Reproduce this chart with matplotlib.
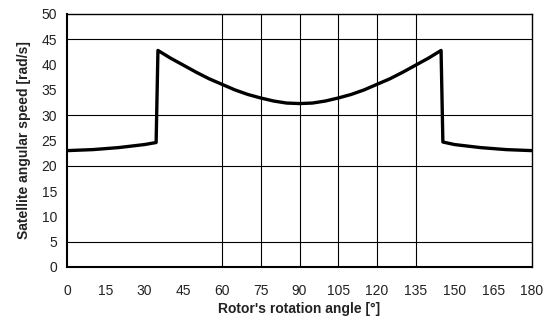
import matplotlib
matplotlib.use("Agg")
import matplotlib.pyplot as plt

angle = [0, 10, 20, 30, 34.5, 35.2, 40, 45, 50, 55, 60, 65, 70, 75, 80, 85, 90,
         95, 100, 105, 110, 115, 120, 125, 130, 135, 140, 144.8, 145.5, 150, 160, 170, 180]
speed = [23.0, 23.2, 23.6, 24.2, 24.6, 42.8, 41.3, 39.9, 38.5, 37.2, 36.1, 35.0, 34.1, 33.4, 32.8, 32.4, 32.3,
         32.4, 32.8, 33.4, 34.1, 35.0, 36.1, 37.2, 38.5, 39.9, 41.3, 42.8, 24.7, 24.2, 23.6, 23.2, 23.0]

xticks = list(range(0, 181, 15))
yticks = list(range(0, 51, 5))
xgrid = [60, 75, 90, 105, 120, 135]
ygrid = [5, 20, 30, 45]

plt.rcParams['font.family'] = ['Liberation Sans', 'DejaVu Sans']
fig = plt.figure(figsize=(5.46, 3.22), dpi=100)
ax = fig.add_axes([67/546, 1 - 267/322, (532 - 67)/546, (267 - 14)/322])
for g in xgrid:
    ax.axvline(g, color='black', lw=0.8, zorder=1)
for g in ygrid:
    ax.axhline(g, color='black', lw=0.8, zorder=1)
ax.plot(angle, speed, color='black', lw=2.4, zorder=3)
ax.set_xlim(0, 180)
ax.set_ylim(0, 50)
ax.set_xticks(xticks)
ax.set_yticks(yticks)
ax.tick_params(length=0, labelsize=10, colors='#222222')
ax.tick_params(axis='x', pad=12)
ax.tick_params(axis='y', pad=7)
for s in ax.spines.values():
    s.set_linewidth(1.0)
    s.set_color('black')
ax.spines['left'].set_linewidth(1.5)
ax.spines['bottom'].set_linewidth(1.5)
ax.set_xlabel("Rotor's rotation angle [°]", fontsize=10, fontweight='bold', labelpad=3, color='#222222')
ax.set_ylabel("Satellite angular speed [rad/s]", fontsize=10, fontweight='bold', labelpad=8, color='#222222')
fig.savefig("out.png", dpi=100)
